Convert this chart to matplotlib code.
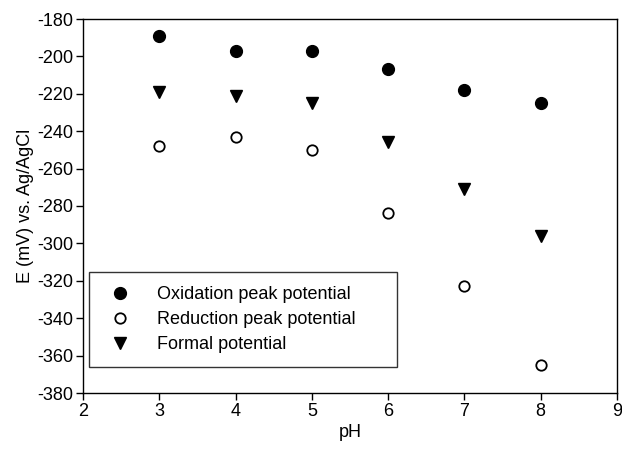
import matplotlib
matplotlib.use("Agg")
import matplotlib.pyplot as plt

plt.rcParams['font.family'] = ['Liberation Sans', 'DejaVu Sans']
plt.rcParams['axes.unicode_minus'] = False

ph = [3, 4, 5, 6, 7, 8]
oxidation = [-189, -197, -197, -207, -218, -225]
reduction = [-248, -243, -250, -284, -323, -365]
formal = [-219, -221, -225, -246, -271, -296]
xticks = [2, 3, 4, 5, 6, 7, 8, 9]
yticks = list(range(-380, -179, 20))

fig = plt.figure(figsize=(6.22, 4.5), dpi=100)
ax = fig.add_axes([83/622, 1-393/450, (617-83)/622, (393-19)/450])

ax.plot(ph, oxidation, linestyle='none', marker='o', markersize=8.5,
        color='black', label='Oxidation peak potential')
ax.plot(ph, reduction, linestyle='none', marker='o', markersize=7.5,
        markerfacecolor='white', markeredgecolor='black', markeredgewidth=1.3,
        label='Reduction peak potential')
ax.plot(ph, formal, linestyle='none', marker='v', markersize=8,
        color='black', label='Formal potential')

ax.set_xlim(2, 9)
ax.set_ylim(-380, -180)
ax.set_xticks(xticks)
ax.set_yticks(yticks)
ax.tick_params(direction='out', length=5, width=1, labelsize=13, pad=2)
for s in ax.spines.values():
    s.set_linewidth(1)
ax.set_xlabel('pH', fontsize=13, labelpad=3)
ax.set_ylabel('E (mV) vs. Ag/AgCl', fontsize=13, labelpad=2)

leg = ax.legend(loc='lower left', bbox_to_anchor=(0.011, 0.07, 0.577, 0.254),
                mode='expand', borderaxespad=0, frameon=True, fancybox=False,
                edgecolor='black', fontsize=13, labelspacing=0.46,
                handletextpad=1.03, borderpad=0.74, handlelength=2.0)
leg.get_frame().set_linewidth(1)

fig.savefig('out.png', dpi=100)
